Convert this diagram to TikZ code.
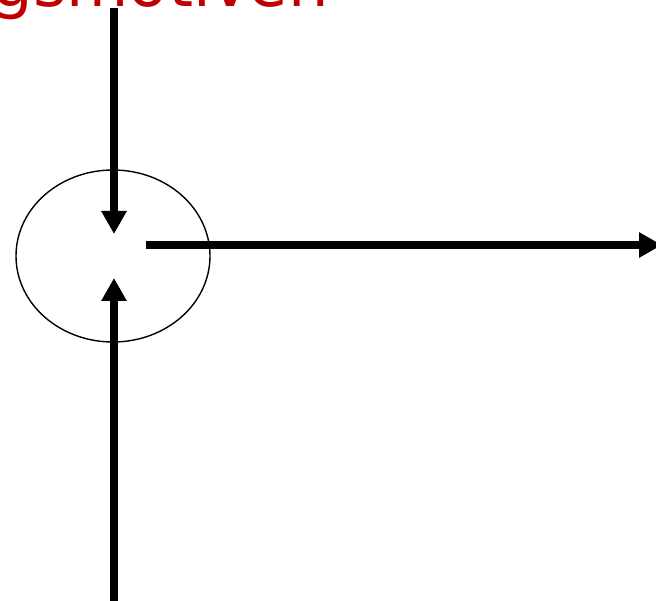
\documentclass[tikz,border=0pt]{standalone}
\usepackage{fontspec}
\newfontfamily\labelfont{DejaVu Sans}
\usetikzlibrary{arrows.meta,shapes.geometric}
\definecolor{titlered}{RGB}{192,0,0}
\tikzset{
  bigarrow/.style={line width=7.5pt, -{Triangle[length=23pt,width=24pt]}},
  ring/.style={draw, ellipse, line width=1.4pt, minimum width=194pt, minimum height=172pt, inner sep=0pt},
  titletext/.style={text=titlered, font=\labelfont\fontsize{64}{64}\selectfont, inner sep=0pt, anchor=base east}
}
\begin{document}
\begin{tikzpicture}[x=1pt,y=-1pt]
\useasboundingbox (0,0) rectangle (656,601);
\node[titletext] (title) at (329,7) {gsmotiven};
\node[ring] (c) at (113,256) {};
\coordinate (topstart) at (114,8);
\coordinate (toptip) at (114,234);
\coordinate (botstart) at (114,605);
\coordinate (bottip) at (114,278);
\coordinate (rstart) at (146,245);
\coordinate (rtip) at (662,245);
\draw[bigarrow] (topstart) -- (toptip);
\draw[bigarrow] (botstart) -- (bottip);
\draw[bigarrow] (rstart) -- (rtip);
\end{tikzpicture}
\end{document}
